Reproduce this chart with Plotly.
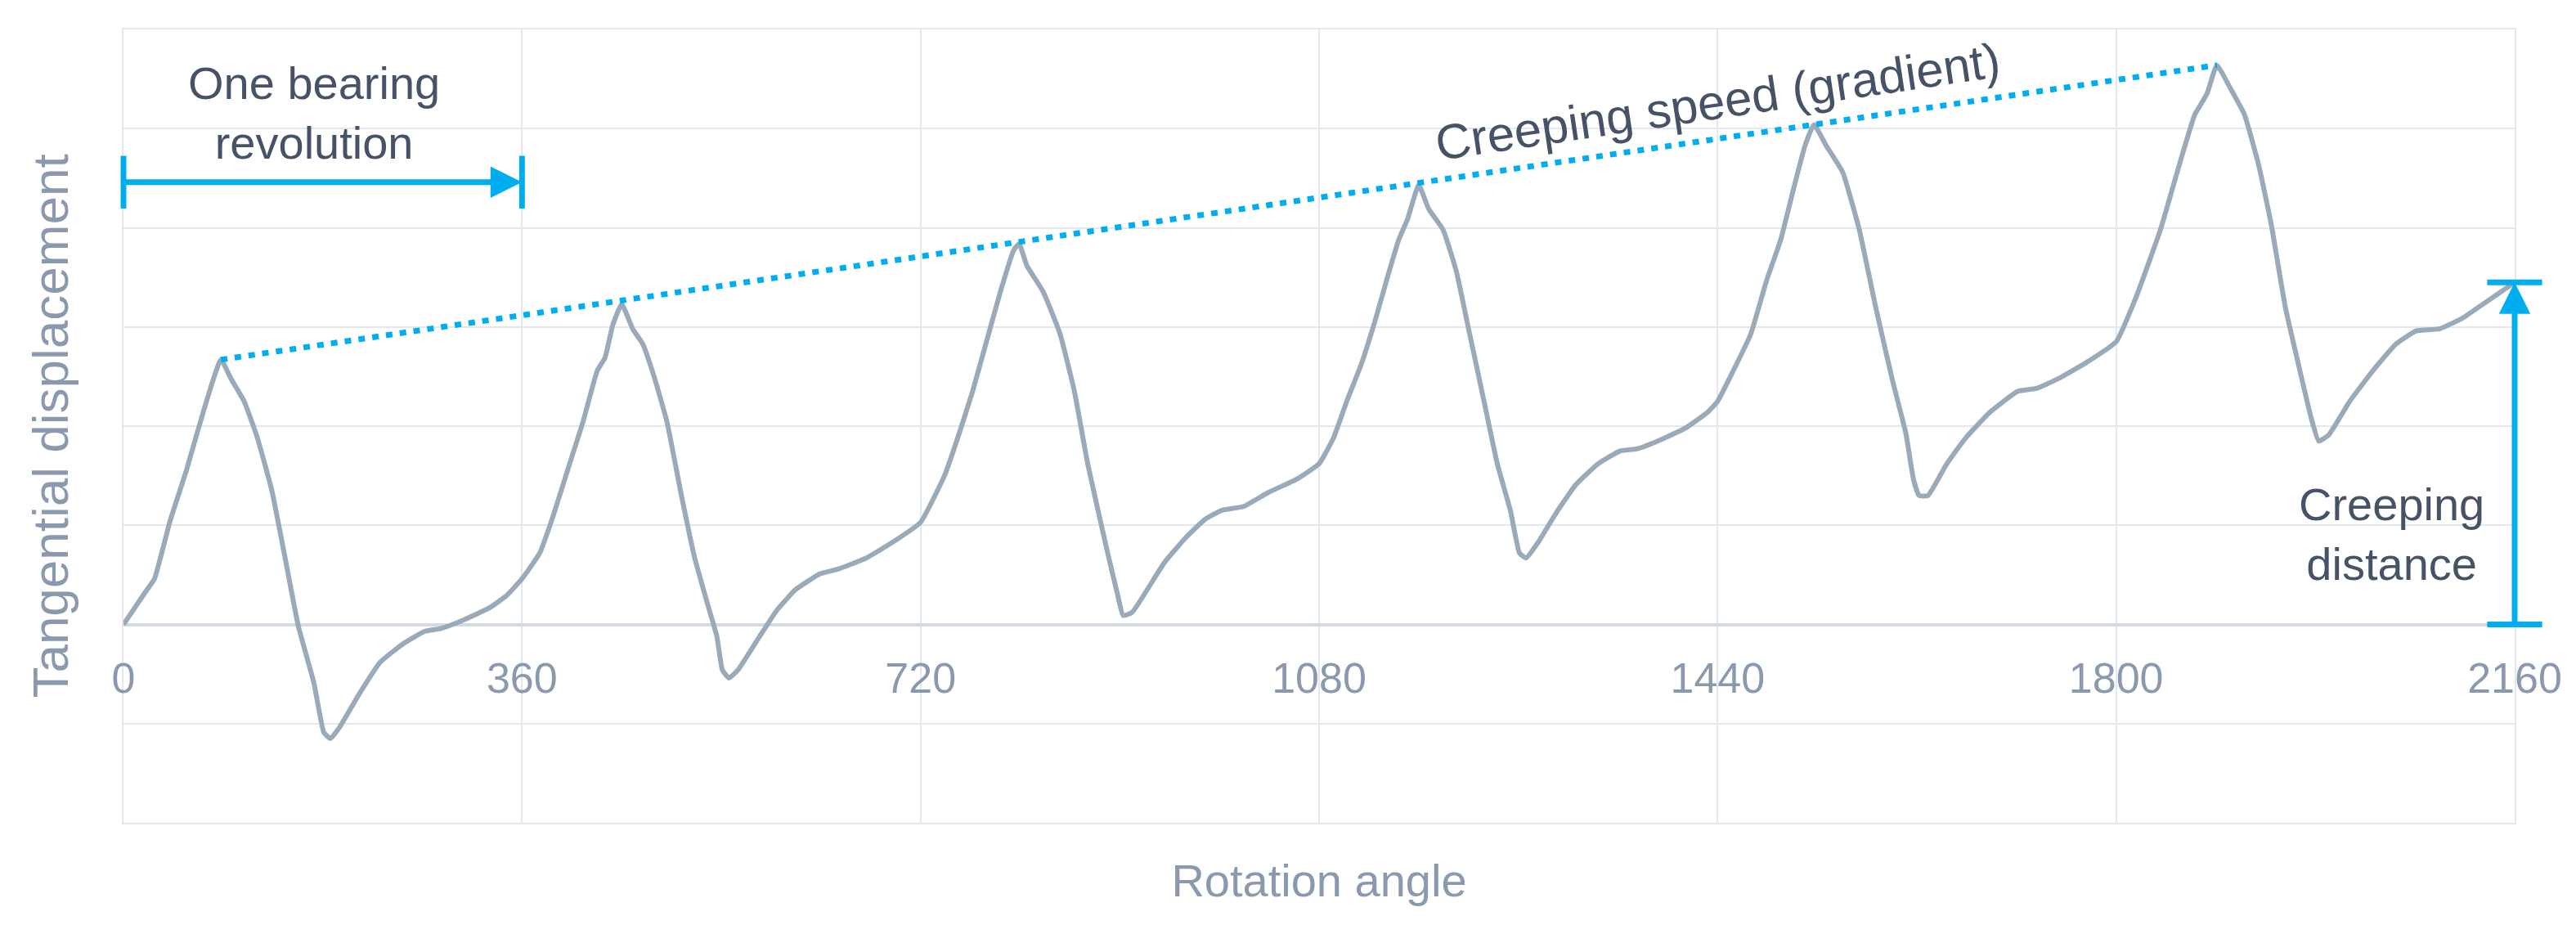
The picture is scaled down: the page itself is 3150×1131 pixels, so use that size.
import plotly.graph_objects as go

# rotation angle (deg) and tangential displacement
angle = [
    0, 20, 28, 42, 57, 72, 88, 97, 109, 121, 134, 146, 158, 172, 181, 187, 195,
    213, 232, 252, 272, 287, 306, 331, 346, 360,
    376, 388, 403, 415, 428, 435, 442, 450, 460, 469, 479, 491, 504, 516, 528,
    536, 541, 547, 555, 573, 590, 607, 629, 646, 671, 695, 720,
    742, 755, 767, 779, 792, 804, 809, 816, 831, 846, 859, 871, 888, 898, 903,
    911, 940, 960, 977, 992, 1012, 1034, 1059, 1080,
    1093, 1105, 1118, 1130, 1142, 1152, 1160, 1170, 1179, 1192, 1204, 1216,
    1229, 1241, 1253, 1261, 1267, 1278, 1295, 1312, 1332, 1352, 1367, 1386,
    1411, 1431, 1440,
    1452, 1470, 1484, 1497, 1509, 1519, 1527, 1538, 1553, 1568, 1583, 1598,
    1610, 1617, 1622, 1630, 1647, 1664, 1686, 1711, 1728, 1748, 1773, 1800,
    1818, 1840, 1858, 1871, 1882, 1891, 1903, 1916, 1929, 1940, 1953, 1966,
    1976, 1983, 1992, 2011, 2032, 2053, 2071, 2092, 2113, 2134, 2160,
]
displacement = [
    0.00, 0.33, 0.46, 1.04, 1.56, 2.14, 2.67, 2.48, 2.25, 1.88, 1.35, 0.67, -0.02,
    -0.59, -1.09, -1.15, -1.04, -0.70, -0.38, -0.20, -0.07, -0.04, 0.04, 0.17, 0.29, 0.46,
    0.72, 1.09, 1.62, 2.04, 2.56, 2.69, 3.02, 3.23, 2.98, 2.83, 2.51, 2.04, 1.30, 0.67, 0.19,
    -0.12, -0.46, -0.54, -0.46, -0.15, 0.14, 0.35, 0.51, 0.56, 0.67, 0.83, 1.03,
    1.51, 1.93, 2.35, 2.83, 3.35, 3.77, 3.84, 3.62, 3.35, 2.93, 2.35, 1.62, 0.77, 0.30, 0.09,
    0.12, 0.62, 0.88, 1.06, 1.15, 1.19, 1.33, 1.46, 1.62,
    1.88, 2.25, 2.62, 3.04, 3.51, 3.88, 4.09, 4.43, 4.19, 3.98, 3.56, 2.93,
    2.25, 1.62, 1.14, 0.72, 0.67, 0.83, 1.14, 1.41, 1.62, 1.75, 1.77, 1.85,
    1.98, 2.14, 2.25,
    2.51, 2.93, 3.46, 3.88, 4.41, 4.83, 5.04, 4.83, 4.56, 3.98, 3.19, 2.46,
    1.93, 1.46, 1.30, 1.30, 1.62, 1.88, 2.14, 2.35, 2.38, 2.48, 2.64, 2.85,
    3.30, 3.98, 4.67, 5.14, 5.35, 5.64, 5.41, 5.14, 4.62, 4.04, 3.19, 2.56,
    2.09, 1.85, 1.91, 2.25, 2.56, 2.83, 2.96, 2.98, 3.09, 3.25, 3.45,
]

# first and last peak, joined by the dotted gradient line
gradient_angle = [88, 1891]
gradient_disp = [2.67, 5.64]

# "one bearing revolution" span and "creeping distance" span
revolution_angle = [0, 360]
revolution_level = 4.46
creep_angle = 2160
creep_disp = [0, 3.45]

x_ticks = [0, 360, 720, 1080, 1440, 1800, 2160]

FONT = "Liberation Sans, Arial, sans-serif"
BLUE = "#00AEEF"
CURVE = "#9AAAB9"
GRID = "#E4E8EE"
ZERO = "#D3DAE2"
TICK = "#8A99AD"
TEXT = "#465366"

fig = go.Figure()

fig.add_trace(go.Scatter(x=angle, y=displacement, mode="lines",
                         line=dict(color=CURVE, width=6, shape="spline", smoothing=0.4),
                         hoverinfo="skip"))

fig.add_trace(go.Scatter(x=gradient_angle, y=gradient_disp, mode="lines",
                         line=dict(color=BLUE, width=7, dash="8px,9px"), hoverinfo="skip"))

# end caps of the two dimension arrows
fig.add_trace(go.Scatter(x=revolution_angle, y=[revolution_level] * 2, mode="markers",
                         marker=dict(symbol="line-ns", size=46, line=dict(color=BLUE, width=7)),
                         cliponaxis=False, hoverinfo="skip"))
fig.add_trace(go.Scatter(x=[creep_angle] * 2, y=creep_disp, mode="markers",
                         marker=dict(symbol="line-ew", size=48, line=dict(color=BLUE, width=7)),
                         cliponaxis=False, hoverinfo="skip"))

# arrow shafts + heads
fig.add_annotation(x=revolution_angle[1], y=revolution_level,
                   ax=revolution_angle[0], ay=revolution_level,
                   xref="x", yref="y", axref="x", ayref="y", text="",
                   showarrow=True, arrowhead=2, arrowsize=1.1, arrowwidth=7, arrowcolor=BLUE)
fig.add_annotation(x=creep_angle, y=creep_disp[1],
                   ax=creep_angle, ay=creep_disp[0],
                   xref="x", yref="y", axref="x", ayref="y", text="",
                   showarrow=True, arrowhead=2, arrowsize=1.1, arrowwidth=7, arrowcolor=BLUE)

label_font = dict(family=FONT, size=56, color=TEXT)
fig.add_annotation(x=172, y=5.16, text="One bearing<br>revolution",
                   showarrow=False, font=label_font)
fig.add_annotation(x=1440, y=5.27, text="Creeping speed (gradient)",
                   showarrow=False, textangle=-8.5, font=dict(label_font, size=60))
fig.add_annotation(x=2049, y=0.91, text="Creeping<br>distance",
                   showarrow=False, font=label_font)

fig.update_layout(
    width=3150, height=1131,
    margin=dict(l=143, r=83, t=28, b=133),
    paper_bgcolor="white", plot_bgcolor="white",
    showlegend=False,
    font=dict(family=FONT, color=TICK),
)

fig.update_xaxes(
    range=[0, 2160], tickvals=x_ticks, layer="below traces",
    showgrid=True, gridcolor=GRID, gridwidth=2, zeroline=False,
    showline=True, mirror=True, linecolor=GRID, linewidth=2,
    ticks="", ticklabelposition="inside", ticklabelstandoff=156,
    ticklabeloverflow="allow",
    tickfont=dict(family=FONT, size=52, color=TICK),
    title=dict(text="Rotation angle", font=dict(family=FONT, size=56, color=TICK), standoff=200),
    automargin=False,
)
fig.update_yaxes(
    range=[-2, 6], dtick=1, showticklabels=False, layer="below traces",
    showgrid=True, gridcolor=GRID, gridwidth=2,
    zeroline=True, zerolinecolor=ZERO, zerolinewidth=4,
    showline=True, mirror=True, linecolor=GRID, linewidth=2,
    title=dict(text="Tangential displacement", font=dict(family=FONT, size=62, color=TICK), standoff=45),
    automargin=True,
)

fig.write_html("out.html")
